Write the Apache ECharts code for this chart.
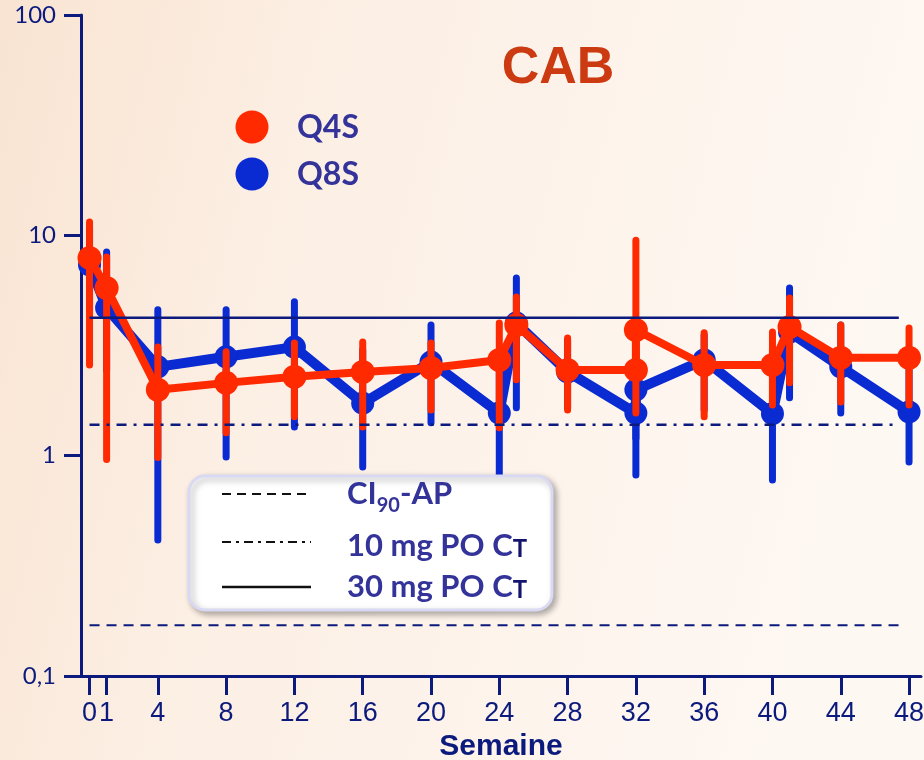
<!DOCTYPE html>
<html>
<head>
<meta charset="utf-8">
<title>CAB</title>
<script src="https://cdn.jsdelivr.net/npm/echarts@6/dist/echarts.min.js"></script>
<style>
  html, body { margin: 0; padding: 0; }
  #chart { width: 924px; height: 760px; }
</style>
</head>
<body>
<div id="chart"></div>
<script>
// Week tick marks / labels on the x axis
const weekTicks = [0, 1, 4, 8, 12, 16, 20, 24, 28, 32, 36, 40, 44, 48];

// Q4S: week, median concentration and 90% interval bounds
const q4sWeeks  = [0, 1, 4, 8, 12, 16, 20, 24, 25, 28, 32, 32, 36, 40, 41, 44, 48];
const q4sMedian = [7.9, 5.77, 1.99, 2.14, 2.28, 2.40, 2.50, 2.72, 3.92, 2.45, 2.45, 3.72, 2.58, 2.58, 3.84, 2.78, 2.78];
const q4sLow    = [2.58, 0.96, 0.98, 1.27, 1.50, 1.35, 1.61, 1.34, 2.21, 1.61, 1.56, 2.60, 1.50, 1.70, 2.14, 1.75, 1.70];
const q4sHigh   = [11.5, 7.98, 3.11, 2.96, 3.25, 3.28, 3.25, 4.00, 5.25, 3.42, 3.10, 9.50, 3.61, 3.64, 5.20, 3.92, 3.80];

// Q8S: week, median concentration and 90% interval bounds
const q8sWeeks  = [0, 1, 4, 8, 12, 16, 20, 24, 25, 28, 32, 32, 36, 40, 41, 44, 48];
const q8sMedian = [7.34, 4.68, 2.53, 2.81, 3.11, 1.73, 2.66, 1.56, 4.00, 2.40, 1.56, 1.99, 2.72, 1.55, 3.64, 2.53, 1.58];
const q8sLow    = [4.59, 2.45, 0.414, 0.986, 1.35, 0.889, 1.41, 0.776, 1.65, 1.65, 0.817, 1.20, 1.61, 0.776, 1.83, 1.56, 0.936];
const q8sHigh   = [10.8, 8.41, 4.59, 4.59, 4.99, 3.02, 3.92, 3.02, 6.41, 3.35, 2.60, 3.46, 3.52, 3.02, 5.77, 3.92, 2.72];

// Reference concentration levels
const refCI90 = 0.17;      // CI90-AP
const ref10mg = 1.38;      // 10 mg PO Ctrough
const ref30mg = 4.23;      // 30 mg PO Ctrough
const refWeekSpan = [0, 47.4];

const RED = '#ff2a00';
const BLUE = '#0a2ad2';
const NAVY = '#0b1a7c';
const TEXT = '#333399';

function pairs(xs, ys) { return xs.map((x, i) => [x, ys[i]]); }
function bars(xs, lo, hi) { return xs.map((x, i) => [x, lo[i], hi[i]]); }

function errorBarSeries(name, data, color, z) {
  return {
    type: 'custom',
    name: name,
    data: data,
    z: z,
    silent: true,
    encode: { x: 0, y: [1, 2] },
    renderItem: function (params, api) {
      const x = api.value(0);
      const p1 = api.coord([x, api.value(1)]);
      const p2 = api.coord([x, api.value(2)]);
      return {
        type: 'line',
        shape: { x1: p1[0], y1: p1[1], x2: p2[0], y2: p2[1] },
        style: { stroke: color, lineWidth: 7, lineCap: 'round' }
      };
    }
  };
}

function refLine(value, dash, width) {
  return {
    type: 'line',
    data: refWeekSpan.map(w => [w, value]),
    symbol: 'none',
    silent: true,
    z: 10,
    lineStyle: { color: NAVY, width: width, type: dash }
  };
}

const chart = echarts.init(document.getElementById('chart'));
chart.setOption({
  animation: false,
  backgroundColor: {
    type: 'linear', x: 0, y: 0, x2: 1, y2: 0.3,
    colorStops: [
      { offset: 0, color: '#f9e4d2' },
      { offset: 0.35, color: '#fcefe4' },
      { offset: 1, color: '#fef8f3' }
    ]
  },
  title: {
    text: 'CAB',
    left: 553, top: 38,
    textAlign: 'center',
    textStyle: { color: '#cc3a12', fontSize: 52, fontWeight: 'bold', fontFamily: 'Liberation Sans' }
  },
  grid: { left: 81, right: 3, top: 15, bottom: 84, outerBoundsMode: 'none', containLabel: false },
  xAxis: {
    type: 'value',
    min: -0.5, max: 48.7,
    name: 'Semaine',
    nameLocation: 'middle',
    nameGap: 52,
    nameTextStyle: { color: NAVY, fontSize: 30, fontWeight: 'bold', fontFamily: 'Liberation Sans' },
    axisLine: { onZero: false, lineStyle: { color: NAVY, width: 3 } },
    axisTick: { customValues: weekTicks, length: 19, lineStyle: { color: NAVY, width: 3 } },
    axisLabel: {
      customValues: weekTicks,
      margin: 24,
      color: NAVY,
      fontSize: 27,
      fontFamily: 'Liberation Sans Narrow, Liberation Sans'
    },
    splitLine: { show: false }
  },
  yAxis: {
    type: 'log',
    logBase: 10,
    min: 0.1, max: 100,
    axisLine: { onZero: false, lineStyle: { color: NAVY, width: 3 } },
    axisTick: { length: 17, lineStyle: { color: NAVY, width: 3 } },
    axisLabel: {
      margin: 25,
      color: NAVY,
      fontSize: 24,
      fontFamily: 'Lato',
      formatter: v => String(v).replace('.', ',')
    },
    splitLine: { show: false },
    minorTick: { show: false }
  },
  series: [
    errorBarSeries('Q8S-IC', bars(q8sWeeks, q8sLow, q8sHigh), BLUE, 2),
    {
      type: 'line', name: 'Q8S', z: 3,
      data: pairs(q8sWeeks, q8sMedian),
      symbol: 'circle', symbolSize: 23,
      itemStyle: { color: BLUE },
      lineStyle: { color: BLUE, width: 10 }
    },
    errorBarSeries('Q4S-IC', bars(q4sWeeks, q4sLow, q4sHigh), RED, 4),
    {
      type: 'line', name: 'Q4S', z: 5,
      data: pairs(q4sWeeks, q4sMedian),
      symbol: 'circle', symbolSize: 24,
      itemStyle: { color: RED },
      lineStyle: { color: RED, width: 8 }
    },
    refLine(ref30mg, 'solid', 2.5),
    refLine(ref10mg, [10, 7, 3, 7], 2.5),
    refLine(refCI90, [10, 7], 2)
  ],
  graphic: [
    // series legend
    { type: 'circle', z: 100, shape: { cx: 252, cy: 127, r: 16.5 }, style: { fill: RED } },
    { type: 'text', z: 100, x: 297, y: 128, style: { text: 'Q4S', fill: TEXT, font: 'bold 32px Lato', verticalAlign: 'middle' } },
    { type: 'circle', z: 100, shape: { cx: 252, cy: 174, r: 16.5 }, style: { fill: BLUE } },
    { type: 'text', z: 100, x: 297, y: 175, style: { text: 'Q8S', fill: TEXT, font: 'bold 32px Lato', verticalAlign: 'middle' } },
    // reference line legend box
    {
      type: 'rect', z: 100,
      shape: { x: 189, y: 476, width: 363, height: 134, r: 16 },
      style: { fill: '#ffffff', stroke: '#d9d9f3', lineWidth: 3, shadowBlur: 6, shadowOffsetX: 3, shadowOffsetY: 3, shadowColor: 'rgba(0,0,0,0.3)' }
    },
    { type: 'line', z: 101, shape: { x1: 222, y1: 494, x2: 311, y2: 494 }, style: { stroke: '#111', lineWidth: 2, lineDash: [9, 6] } },
    { type: 'line', z: 101, shape: { x1: 222, y1: 542, x2: 311, y2: 542 }, style: { stroke: '#111', lineWidth: 2, lineDash: [9, 5, 3, 5] } },
    { type: 'line', z: 101, shape: { x1: 222, y1: 587, x2: 311, y2: 587 }, style: { stroke: '#111', lineWidth: 2.5 } },
    {
      type: 'text', z: 101, x: 347, y: 494,
      style: {
        text: '{a|CI}{s|90}{a|-AP}', verticalAlign: 'middle',
        rich: {
          a: { fill: TEXT, fontFamily: 'Lato', fontWeight: 'bold', fontSize: 31, lineHeight: 36 },
          s: { fill: TEXT, fontFamily: 'Lato', fontWeight: 'bold', fontSize: 20, lineHeight: 20, padding: [24, 0, 0, 0] }
        }
      }
    },
    {
      type: 'text', z: 101, x: 347, y: 546,
      style: {
        text: '{a|10 mg PO C}{t|T}', verticalAlign: 'middle',
        rich: {
          a: { fill: TEXT, fontFamily: 'Lato', fontWeight: 'bold', fontSize: 31, lineHeight: 36 },
          t: { fill: '#14146e', fontFamily: 'Lato', fontWeight: 'bold', fontSize: 24, lineHeight: 36, padding: [6, 0, 0, 0] }
        }
      }
    },
    {
      type: 'text', z: 101, x: 347, y: 587,
      style: {
        text: '{a|30 mg PO C}{t|T}', verticalAlign: 'middle',
        rich: {
          a: { fill: TEXT, fontFamily: 'Lato', fontWeight: 'bold', fontSize: 31, lineHeight: 36 },
          t: { fill: '#14146e', fontFamily: 'Lato', fontWeight: 'bold', fontSize: 24, lineHeight: 36, padding: [6, 0, 0, 0] }
        }
      }
    }
  ]
});
</script>
</body>
</html>
